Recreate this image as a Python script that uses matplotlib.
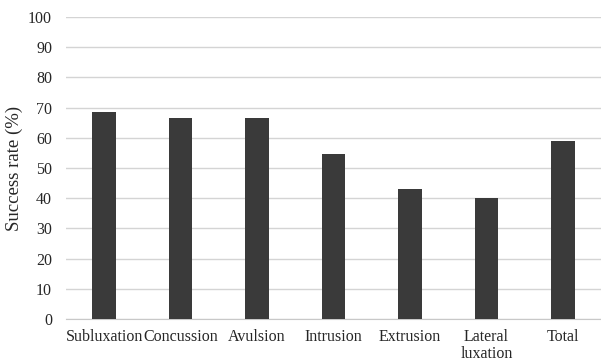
import numpy as np
import matplotlib.pyplot as plt

categories = ['Subluxation', 'Concussion', 'Avulsion', 'Intrusion',
              'Extrusion', 'Lateral\nluxation', 'Total']
success = [68.5, 66.7, 66.7, 54.5, 42.9, 40.0, 58.9]
yticks = list(range(0, 101, 10))

plt.rcParams['font.family'] = ['Liberation Serif', 'DejaVu Serif']

fig = plt.figure(figsize=(6.01, 3.63), dpi=100)
ax = fig.add_axes([66 / 601, 1 - 319 / 363, 535 / 601, 302 / 363])

x = np.arange(len(categories))
ax.bar(x, success, width=0.31, color='#3a3a3a', zorder=3)

ax.set_xlim(-0.5, len(categories) - 0.5)
ax.set_ylim(0, 100)
ax.set_yticks(yticks)
ax.set_xticks(x)
ax.set_xticklabels(categories, fontsize=11.5, color='#262626', linespacing=1.12)
ax.tick_params(axis='y', labelsize=11.5, labelcolor='#262626', length=0, pad=10)
ax.tick_params(axis='x', length=0, pad=7)
ax.set_ylabel('Success rate (%)', fontsize=13.5, color='#262626', labelpad=4)

ax.grid(axis='y', color='#d4d4d4', linewidth=1.0, zorder=0)
for side in ['top', 'right', 'left']:
    ax.spines[side].set_visible(False)
ax.spines['bottom'].set_color('#c8c8c8')

fig.savefig('out.png', dpi=100)
